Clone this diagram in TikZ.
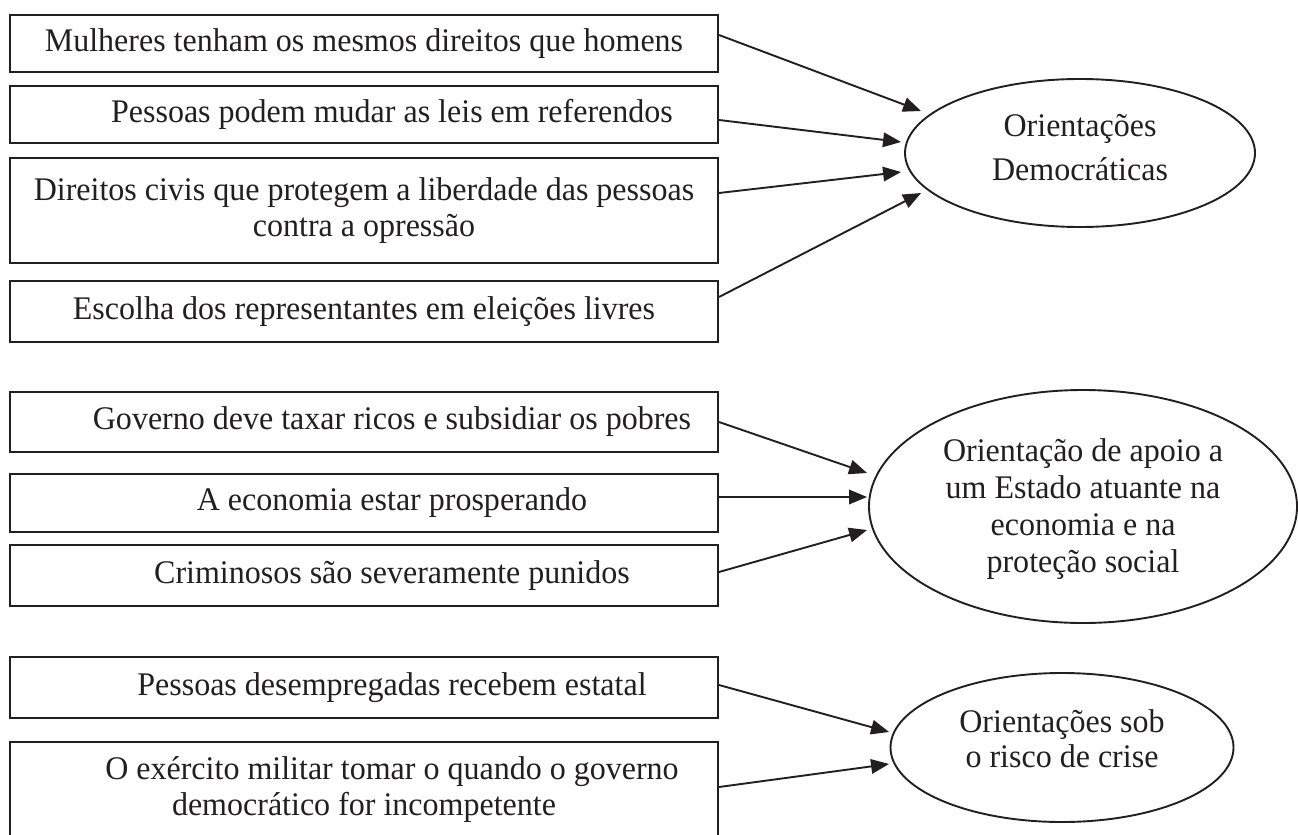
\documentclass[tikz,border=0pt]{standalone}
\usepackage{fontspec}
\setmainfont{Liberation Serif}[FakeStretch=0.97]
\usetikzlibrary{arrows.meta,shapes.geometric}
\definecolor{ink}{HTML}{231F20}
\begin{document}
\begin{tikzpicture}[x=1pt,y=-1pt,
  every node/.style={text=ink},
  box/.style={draw=ink,line width=2pt,minimum width=708pt,inner sep=0pt,align=center,font=\fontsize{33}{36}\selectfont},
  oval/.style={draw=ink,ellipse,line width=1.9pt,inner sep=0pt},
  lbl/.style={align=center,inner sep=0pt,font=\fontsize{33}{37}\selectfont},
  arr/.style={draw=ink,line width=1.9pt,-{Triangle[length=18pt,width=14.5pt]}}]
\path[use as bounding box] (0,0) rectangle (1298,835);
\clip (0,0) rectangle (1298,835);
% left boxes
\node[box,minimum height=57pt]  (b1) at (364,43.5)  {Mulheres tenham os mesmos direitos que homens};
\node[box,minimum height=57pt]  (b2) at (364,114.5) {\hspace*{56pt}Pessoas podem mudar as leis em referendos};
\node[box,minimum height=105pt] (b3) at (364,210.5) {Direitos civis que protegem a liberdade das pessoas\\contra a opressão};
\node[box,minimum height=61pt]  (b4) at (364,311.5) {Escolha dos representantes em eleições livres};
\node[box,minimum height=60pt]  (b5) at (364,422)   {\hspace*{56pt}Governo deve taxar ricos e subsidiar os pobres};
\node[box,minimum height=58pt]  (b6) at (364,503)   {\hspace*{56pt}A economia estar prosperando};
\node[box,minimum height=61pt]  (b7) at (364,575.5) {\hspace*{56pt}Criminosos são severamente punidos};
\node[box,minimum height=61pt]  (b8) at (364,687.5) {\hspace*{56pt}Pessoas desempregadas recebem estatal};
\node[box,minimum height=96pt]  (b9) at (364,790)   {\hspace*{56pt}O exército militar tomar o quando o governo\\democrático for incompetente};
% ellipses
\node[oval,minimum width=350pt,minimum height=148pt] (e1) at (1080,153) {};
\node[oval,minimum width=428pt,minimum height=233pt] (e2) at (1083,506.5) {};
\node[oval,minimum width=343pt,minimum height=149pt] (e3) at (1062,747.5) {};
\node[lbl,font=\fontsize{33}{44}\selectfont] (l1) at (1080,148) {Orientações\\Democráticas};
\node[lbl] (l2) at (1083,509.5) {Orientação de apoio a\\um Estado atuante na\\economia e na\\proteção social};
\node[lbl,font=\fontsize{33}{35}\selectfont] (l3) at (1062,738.5) {Orientações sob\\o risco de crise};
% connectors
\draw[arr] ([yshift=8.5pt]b1.east)  -- ([shift={(17pt,42pt)}]e1.west);
\draw[arr] ([yshift=-5.5pt]b2.east) -- ([shift={(-3pt,11pt)}]e1.west);
\draw[arr] ([yshift=17.5pt]b3.east) -- ([shift={(-3pt,-19pt)}]e1.west);
\draw[arr] ([yshift=14.5pt]b4.east) -- ([shift={(17pt,-40pt)}]e1.west);
\draw[arr] (b5.east)                -- ([shift={(-1pt,33.5pt)}]e2.west);
\draw[arr] ([yshift=6pt]b6.east)    -- ([shift={(-1pt,9.5pt)}]e2.west);
\draw[arr] ([yshift=3.5pt]b7.east)  -- ([shift={(-1pt,-23.5pt)}]e2.west);
\draw[arr] ([yshift=2.5pt]b8.east)  -- ([shift={(-0.5pt,15.5pt)}]e3.west);
\draw[arr] ([yshift=3pt]b9.east)    -- ([shift={(-0.5pt,-16.5pt)}]e3.west);
\end{tikzpicture}
\end{document}
